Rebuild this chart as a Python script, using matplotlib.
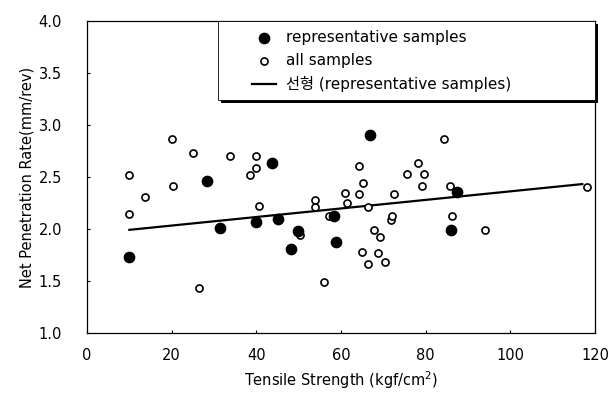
import numpy as np
import matplotlib
matplotlib.use("Agg")
import matplotlib.pyplot as plt
from matplotlib.patches import Rectangle
from matplotlib.transforms import offset_copy

plt.rcParams['font.family'] = ['DejaVu Sans', 'Noto Sans CJK KR']

# representative samples (filled)
rep_x = [10.0, 28.4, 31.3, 39.9, 43.6, 45.0, 48.1, 49.9, 58.3, 58.7, 66.9, 86.0, 87.3]
rep_y = [1.73, 2.46, 2.01, 2.07, 2.64, 2.10, 1.81, 1.98, 2.125, 1.88, 2.90, 1.99, 2.36]

# all samples (open)
all_x = [9.9, 9.9, 13.8, 20.0, 20.2, 25.0, 26.5, 33.8, 38.5, 39.8, 40.0, 40.6,
         50.3, 53.9, 53.9, 56.0, 57.1, 60.9, 61.5, 64.3, 64.3, 65.3, 66.4,
         67.7, 69.1, 65.0, 68.7, 66.4, 70.5, 71.7, 72.1, 72.5, 75.6, 78.2,
         79.7, 79.2, 84.3, 85.8, 86.1, 93.9, 118.2]
all_y = [2.52, 2.14, 2.31, 2.87, 2.41, 2.73, 1.43, 2.70, 2.52, 2.59, 2.70, 2.22,
         1.94, 2.28, 2.21, 1.49, 2.125, 2.35, 2.25, 2.61, 2.34, 2.445, 2.21,
         1.99, 1.92, 1.78, 1.77, 1.66, 1.68, 2.09, 2.13, 2.34, 2.53, 2.64,
         2.53, 2.41, 2.87, 2.41, 2.125, 1.99, 2.40]

trend_end = 117

fig = plt.figure(figsize=(6.15, 3.99), dpi=100)
ax = fig.add_axes([0.1415, 0.1654, 0.826, 0.7816])

ax.scatter(all_x, all_y, s=26, facecolors='white', edgecolors='black',
           linewidths=1.2, zorder=3, label='all samples')
ax.scatter(rep_x, rep_y, s=55, color='black', zorder=4,
           label='representative samples')

# linear fit of the representative samples
k, b = np.polyfit(rep_x, rep_y, 1)
tx = np.array([min(rep_x), trend_end])
ax.plot(tx, k * tx + b, color='black', lw=1.6, zorder=2,
        label='선형 (representative samples)')

ax.set_xlim(0, 120)
ax.set_ylim(1.0, 4.0)
ax.set_xticks(range(0, 121, 20))
ax.set_yticks(np.arange(1.0, 4.01, 0.5))
ax.set_yticklabels([f'{v:.1f}' for v in np.arange(1.0, 4.01, 0.5)])
ax.tick_params(direction='in', length=2, labelsize=10.5)
ax.tick_params(axis='x', pad=11)
ax.tick_params(axis='y', pad=18)
for s in ax.spines.values():
    s.set_linewidth(0.9)

ax.set_xlabel('Tensile Strength (kgf/cm$^2$)', fontsize=10.5, labelpad=4)
ax.set_ylabel('Net Penetration Rate(mm/rev)', fontsize=10.5, labelpad=3)

# legend box with a heavy shadow on the bottom/right edge
box = dict(xy=(0.258, 0.747), width=0.742, height=0.253)
ax.add_patch(Rectangle(**box, transform=offset_copy(ax.transAxes, fig, x=2.2, y=-2.2, units='points'),
                       facecolor='black', edgecolor='none', zorder=5, clip_on=False))
ax.add_patch(Rectangle(**box, transform=ax.transAxes, facecolor='white',
                       edgecolor='black', lw=0.6, zorder=6, clip_on=False))

h, l = ax.get_legend_handles_labels()
order = [1, 0, 2]
leg = ax.legend([h[i] for i in order], [l[i] for i in order],
                loc='upper left', bbox_to_anchor=(0.315, 0.985),
                borderaxespad=0, fontsize=11, frameon=False,
                handlelength=1.6, handletextpad=0.65, labelspacing=0.52,
                borderpad=0.3)
leg.set_zorder(7)

fig.savefig('out.png', dpi=100)
